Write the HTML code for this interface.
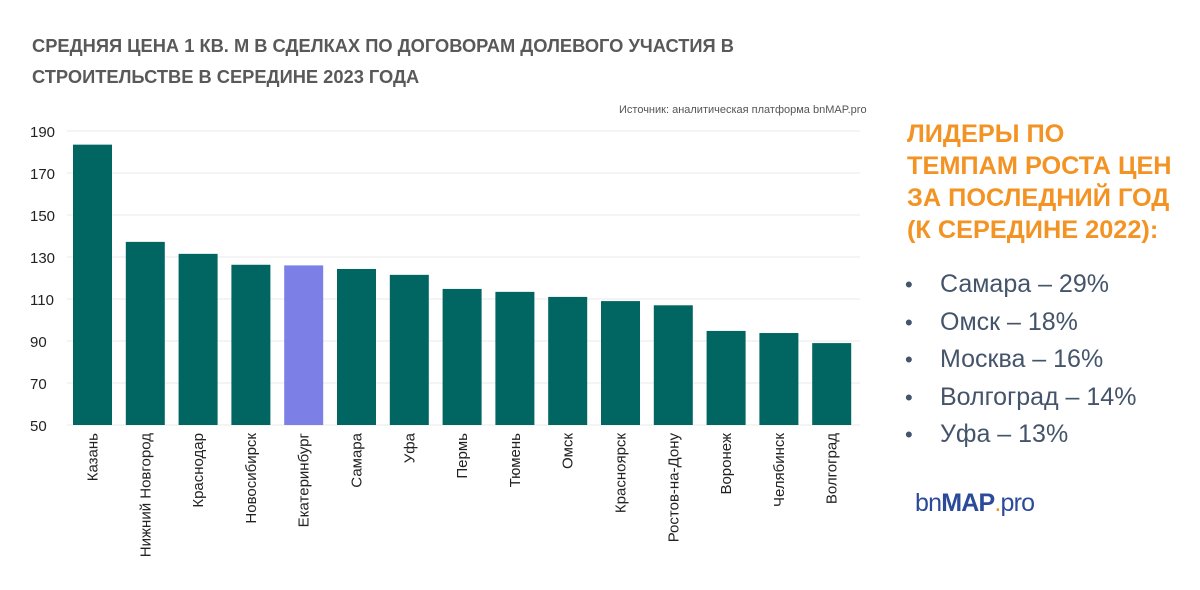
<!DOCTYPE html>
<html><head><meta charset="utf-8">
<style>
body{margin:0;width:1200px;height:590px;background:#fff;overflow:hidden;font-family:"Liberation Sans","DejaVu Sans",sans-serif;position:relative}
.title{position:absolute;left:32px;top:30px;font-size:18.3px;font-weight:bold;color:#595959;line-height:31px}
.src{position:absolute;left:619px;top:104px;font-size:11px;color:#555}
.lead{position:absolute;left:907px;top:118px;font-size:25.3px;font-weight:bold;color:#f39323;line-height:32px}
.list{position:absolute;left:905px;top:266px;font-size:25px;color:#44546a;line-height:37.5px;margin:0;padding:0;list-style:none}
.list li:before{content:"•";display:inline-block;width:35px;font-size:22px}
.logo{position:absolute;left:915px;top:489px;font-size:25px;color:#2c4a9a;letter-spacing:-0.8px}
.logo b{font-weight:900}
</style></head><body>
<div class="title">СРЕДНЯЯ ЦЕНА 1 КВ. М В СДЕЛКАХ ПО ДОГОВОРАМ ДОЛЕВОГО УЧАСТИЯ В<br>СТРОИТЕЛЬСТВЕ В СЕРЕДИНЕ 2023 ГОДА</div>
<div class="src">Источник: аналитическая платформа bnMAP.pro</div>
<svg id="chart" width="880" height="590" style="position:absolute;left:0;top:0"></svg>
<div class="lead">ЛИДЕРЫ ПО<br>ТЕМПАМ РОСТА ЦЕН<br>ЗА ПОСЛЕДНИЙ ГОД<br>(К СЕРЕДИНЕ 2022):</div>
<ul class="list">
<li>Самара – 29%</li>
<li>Омск – 18%</li>
<li>Москва – 16%</li>
<li>Волгоград – 14%</li>
<li>Уфа – 13%</li>
</ul>
<div class="logo">bn<b>MAP</b><span style="color:#f39323">.</span>pro</div>
<script>
const categories=["Казань","Нижний Новгород","Краснодар","Новосибирск","Екатеринбург","Самара","Уфа","Пермь","Тюмень","Омск","Красноярск","Ростов-на-Дону","Воронеж","Челябинск","Волгоград"];
const values=[183.5,137.2,131.5,126.3,126,124.3,121.5,114.8,113.4,111,109,107,94.8,93.8,89];
const highlight=[4];
const ticks=[50,70,90,110,130,150,170,190];
const NS="http://www.w3.org/2000/svg";
const svg=document.getElementById('chart');
function y(v){return 425-(v-50)*2.1;}
function x(i){return 73+i*52.8;}
function mk(t,a){const e=document.createElementNS(NS,t);for(const k in a)e.setAttribute(k,a[k]);svg.appendChild(e);return e;}
ticks.forEach(t=>{
 const l=mk('line',{x1:67,x2:860,y1:y(t),y2:y(t),stroke:'#e8e8e8','stroke-width':1});
 
 
 const tx=mk('text',{x:30,y:y(t)+6,'font-size':15,fill:'#222','font-family':'Liberation Sans, sans-serif'});
 tx.textContent=t;
 
 
});
categories.forEach((c,i)=>{
 const r=mk('rect',{x:x(i),y:y(values[i]),width:39,height:y(50)-y(values[i]),fill:highlight.includes(i)?'#7b7fe6':'#016661'});
 
 
 const cx=x(i)+19.5+5;
 const tx=mk('text',{x:cx,y:433,'font-size':15,fill:'#222','text-anchor':'end','font-family':'Liberation Sans, DejaVu Sans, sans-serif',transform:`rotate(-90 ${cx} 433)`});
 tx.textContent=c;
 
 
});
</script>
</body></html>
